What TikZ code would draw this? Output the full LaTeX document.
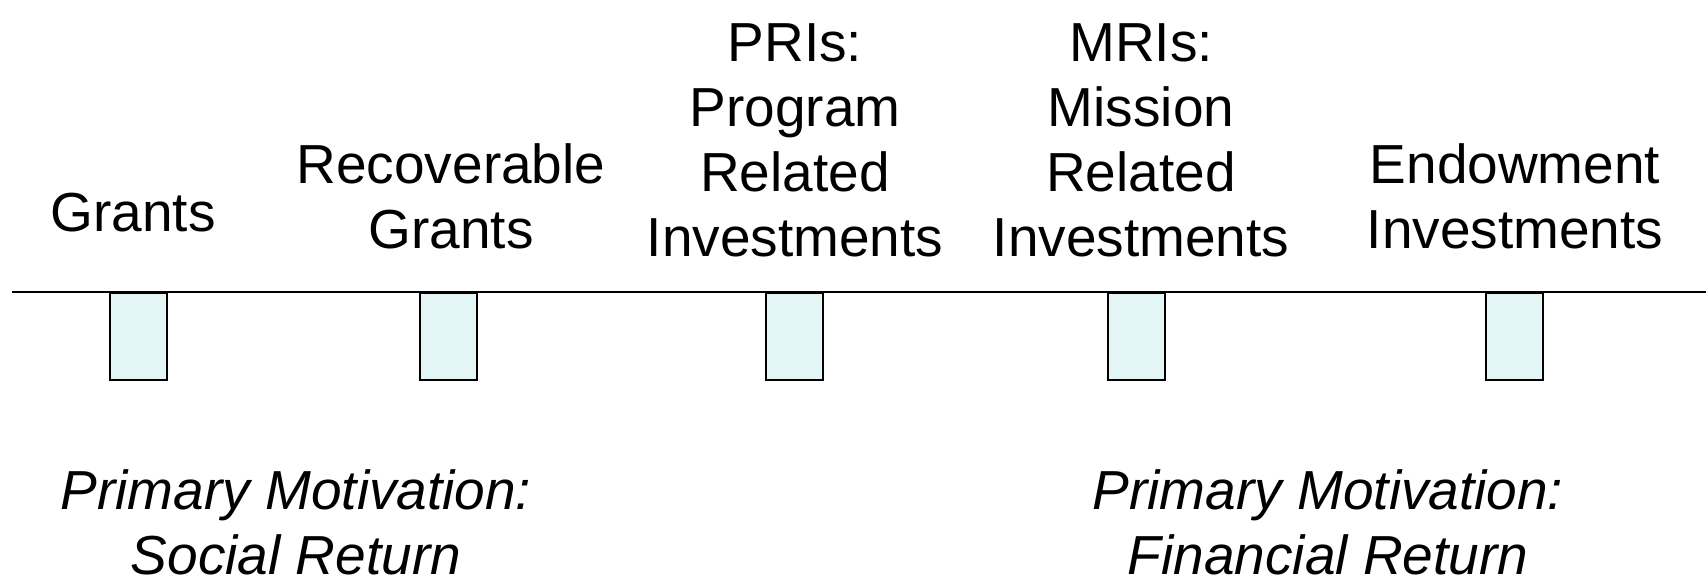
\documentclass[tikz,border=0pt]{standalone}
\usepackage{fontspec}
\setmainfont{Liberation Sans}
\usepackage{xcolor}
\usetikzlibrary{positioning}

\definecolor{slotfill}{RGB}{228,245,246}

\begin{document}
\begin{tikzpicture}[x=1pt, y=-1pt,
    cat/.style={align=center, inner sep=0pt, anchor=base, font=\fontsize{55}{65}\selectfont},
    motive/.style={cat, font=\fontsize{55}{65}\selectfont\itshape},
    slot/.style={draw, line width=2pt, fill=slotfill, minimum width=57pt, minimum height=87pt, inner sep=0pt, anchor=north}]
    \useasboundingbox (0,0) rectangle (1706,579);

    % Axis
    \coordinate (start) at (12,292);
    \coordinate (end) at (1706,292);
    \draw[line width=2.5pt] (start) -- (end);

    % Slots under the axis
    \node[slot] (s1) at (138.5,292) {};
    \node[slot] (s2) at (448,292) {};
    \node[slot] (s3) at (794.5,292) {};
    \node[slot] (s4) at (1136,292) {};
    \node[slot] (s5) at (1514,292) {};

    % Categories (anchored at the last line)
    \node[cat] (grants) at (133,231) {Grants};
    \node[cat] (recov) at (451,248) {Recoverable\\Grants};
    \node[cat] (pri) at (795,256) {PRIs:\\Program\\Related\\Investments};
    \node[cat] (mri) at (1141,256) {MRIs:\\Mission\\Related\\Investments};
    \node[cat] (endow) at (1515,248) {Endowment\\Investments};

    % Motivations
    \node[motive] (social) at (296,574) {Primary Motivation:\\Social Return};
    \node[motive] (financial) at (1328,574) {Primary Motivation:\\Financial Return};
\end{tikzpicture}
\end{document}
